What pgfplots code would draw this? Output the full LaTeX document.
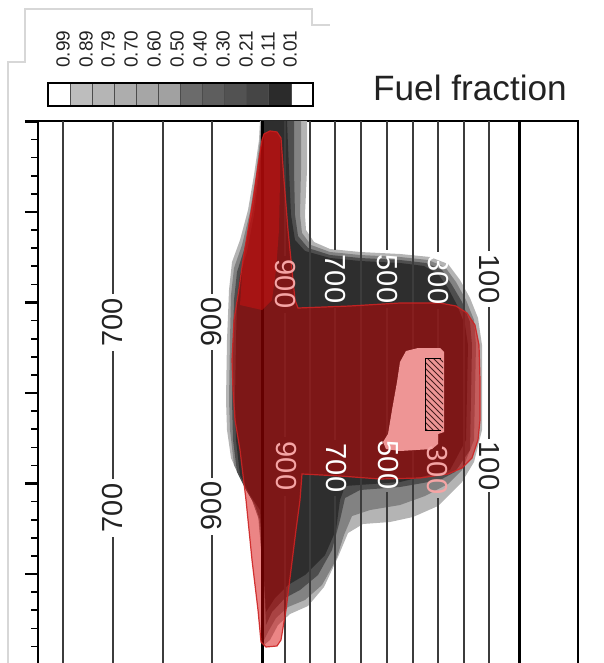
\documentclass[border=0pt]{standalone}
\usepackage{pgfplots}
\pgfplotsset{compat=1.18}
\usepackage{fontspec}
\setmainfont{Liberation Sans}
\usetikzlibrary{patterns}
\definecolor{gA}{RGB}{180,180,180}
\definecolor{gB}{RGB}{130,130,130}
\definecolor{gC}{RGB}{78,78,78}
\definecolor{gD}{RGB}{46,46,46}
\definecolor{isol}{RGB}{60,60,60}
\definecolor{redov}{RGB}{213,0,0}
\definecolor{redhi}{RGB}{200,18,18}
\definecolor{redline}{RGB}{205,35,35}
\definecolor{core}{RGB}{248,160,160}
\definecolor{pinktxt}{RGB}{245,165,165}
\definecolor{frame}{RGB}{215,215,215}
\definecolor{txt}{RGB}{34,34,34}
\begin{document}
\begin{tikzpicture}
\begin{axis}[
  scale only axis, width=270pt, height=274.5pt,
  xmin=38, xmax=578, ymin=121, ymax=670, y dir=reverse,
  axis line style={line width=1.25pt, black},
  xtick=\empty,
  ytick={121.5,212,302.5,393,483.5,574,664.5},
  minor y tick num=4,
  yticklabels={},
  ytick pos=left, tick align=outside,
  major tick length=6.5pt, minor tick length=3.5pt,
  every major tick/.append style={line width=1.3pt, black},
  every minor tick/.append style={line width=0.8pt, black},
  clip=false,
]
% ---- fuel fraction bands
\addplot[fill=gA, draw=none] coordinates {(260,121) (307,121) (307,170) (305,215) (306,230) (314,242) (330,249) (360,252) (400,254) (430,257) (448,264) (460,280) (470,298) (478,318) (482,345) (482,430) (474,462) (462,482) (438,506) (413,517) (390,522) (363,524) (348,533) (338,557) (324,587) (308,606) (290,614) (278,625) (270,640) (264,645) (262,560) (258,515) (250,495) (240,478) (231,458) (227,430) (226,400) (227,340) (229,290) (232,262) (240,240) (248,210) (254,175) (259,140)} --cycle;
\addplot[fill=gB, draw=none] coordinates {(261,121) (301,121) (301,170) (300,215) (302,233) (311,245) (330,252) (360,255) (400,257) (428,260) (445,267) (456,282) (466,300) (474,320) (476,345) (474,440) (462,470) (448,484) (425,496) (400,505) (370,510) (352,516) (344,535) (336,560) (322,585) (305,600) (288,607) (276,618) (268,632) (264,640) (262,560) (259,520) (252,500) (243,484) (234,465) (230,430) (229,400) (230,340) (231,295) (234,268) (242,245) (250,212) (256,175) (260,140)} --cycle;
\addplot[fill=gC, draw=none] coordinates {(262,121) (294,121) (294,170) (295,215) (298,236) (308,248) (330,255) (360,258) (400,260) (426,263) (442,270) (452,285) (462,302) (470,322) (472,345) (470,450) (455,472) (440,480) (400,487) (360,490) (345,498) (340,520) (332,550) (318,575) (300,590) (285,598) (272,612) (266,625) (263,560) (260,520) (255,505) (246,490) (237,472) (233,440) (232,400) (233,340) (234,300) (237,272) (244,250) (252,215) (258,175) (261,140)} --cycle;
\addplot[fill=gD, draw=none] coordinates {(262,121) (287,121) (289,170) (291,215) (295,240) (305,251) (330,258) (360,261) (400,263) (424,266) (438,274) (448,288) (457,305) (465,325) (468,345) (466,440) (450,470) (400,482) (345,486) (340,500) (336,530) (325,555) (305,575) (288,585) (275,598) (266,612) (263,560) (260,510) (250,495) (240,475) (236,440) (235,400) (236,340) (237,300) (240,275) (247,252) (254,215) (259,175) (262,140)} --cycle;
% ---- isolines
\pgfplotsset{iso/.style={isol, line width=0.75pt, unbounded coords=jump, forget plot}}
\addplot[iso] coordinates {(63,121) (63,670)};
\addplot[iso] coordinates {(113,121) (113,294) (113,nan) (113,351) (113,479) (113,nan) (113,537) (113,670)};
\addplot[iso] coordinates {(163,121) (163,670)};
\addplot[iso] coordinates {(212,121) (212,294) (212,nan) (212,350) (212,478) (212,nan) (212,535) (212,670)};
\addplot[black, line width=1.5pt] coordinates {(262,121) (262,670)};
\addplot[iso] coordinates {(285,121) (285,256) (285,nan) (285,313) (285,437) (285,nan) (285,496) (285,670)};
\addplot[iso] coordinates {(310,121) (310,670)};
\addplot[iso] coordinates {(335,121) (335,250) (335,nan) (335,308) (335,440) (335,nan) (335,496) (335,670)};
\addplot[iso] coordinates {(361,121) (361,670)};
\addplot[iso] coordinates {(387,121) (387,250) (387,nan) (387,308) (387,438) (387,nan) (387,492) (387,670)};
\addplot[iso] coordinates {(413,121) (413,670)};
\addplot[iso] coordinates {(438,121) (438,252) (438,nan) (438,309) (438,441) (438,nan) (438,498) (438,670)};
\addplot[iso] coordinates {(464,121) (464,670)};
\addplot[iso] coordinates {(489,121) (489,251) (489,nan) (489,307) (489,439) (489,nan) (489,492) (489,670)};
\addplot[black, line width=1.5pt] coordinates {(519,121) (519,670)};
% ---- red region
\addplot[fill=redov, fill opacity=0.48, draw=redline, draw opacity=0.9, line width=0.6pt] coordinates {(262,140) (264,134) (270,131) (277,132) (281,138) (284,180) (288,230) (292,270) (295,300) (298,308) (350,306) (400,303) (440,303) (456,306) (467,313) (475,325) (479,345) (480,380) (480,420) (478,440) (472,458) (462,468) (448,474) (420,478) (380,479) (340,476) (302,474) (300,500) (296,530) (291,570) (286,610) (281,640) (277,646) (266,647) (261,642) (258,610) (252,560) (246,500) (240,450) (235,420) (233,390) (232,360) (234,320) (238,295) (243,260) (248,230) (253,200) (258,165)} --cycle;
% brighter upper spike
\addplot[fill=redhi, fill opacity=0.55, draw=none] coordinates {(262,140) (264,134) (270,131) (277,132) (280,138) (280,180) (279,230) (276,270) (272,300) (262,310) (240,305) (243,260) (248,230) (253,200) (258,165)} --cycle;
% ---- core
\addplot[fill=core, fill opacity=0.92, draw=none] coordinates {(406,351) (418,348) (440,348) (444,352) (444,432) (438,434) (438,444) (432,449) (400,451) (386,449) (383,442) (388,434) (392,410) (397,382) (400,362)} --cycle;
\addplot[pattern=north west lines, pattern color={rgb,255:red,70;green,30;blue,30}, draw=none] coordinates {(425,358) (443,358) (443,430) (425,430)} --cycle;
\addplot[black, line width=0.5pt] coordinates {(441,358) (425,358) (425,430) (441,430)};
% ---- labels
\tikzset{lab/.style={font=\fontsize{14.5}{17}\selectfont, inner sep=0pt, anchor=center}}
\node[lab, rotate=90, text=txt] at (axis cs:113,322.5) {700};
\node[lab, rotate=90, text=txt] at (axis cs:113,508) {700};
\node[lab, rotate=90, text=txt] at (axis cs:212,322) {900};
\node[lab, rotate=90, text=txt] at (axis cs:212,506) {900};
\node[lab, rotate=-90, text=pinktxt] at (axis cs:285,284) {900};
\node[lab, rotate=-90, text=pinktxt] at (axis cs:286,466) {900};
\node[lab, rotate=-90, text=white] at (axis cs:335,279) {700};
\node[lab, rotate=-90, text=white] at (axis cs:336,468) {700};
\node[lab, rotate=-90, text=white] at (axis cs:387,279) {500};
\node[lab, rotate=-90, text=white] at (axis cs:388,465) {500};
\node[lab, rotate=-90, text=white] at (axis cs:438,280) {300};
\node[lab, rotate=-90, text=pinktxt] at (axis cs:437,470) {300};
\node[lab, rotate=-90, text=txt] at (axis cs:489,279) {100};
\node[lab, rotate=-90, text=txt] at (axis cs:489,466) {100};
% ---- colour bar
\fill[white] (axis cs:48,83) rectangle (axis cs:70.1,106);
\fill[black!26] (axis cs:70.1,83) rectangle (axis cs:92.2,106);
\fill[black!29] (axis cs:92.2,83) rectangle (axis cs:114.3,106);
\fill[black!32] (axis cs:114.3,83) rectangle (axis cs:136.4,106);
\fill[black!35] (axis cs:136.4,83) rectangle (axis cs:158.4,106);
\fill[black!37] (axis cs:158.4,83) rectangle (axis cs:180.5,106);
\fill[black!58] (axis cs:180.5,83) rectangle (axis cs:202.6,106);
\fill[black!63] (axis cs:202.6,83) rectangle (axis cs:224.7,106);
\fill[black!68] (axis cs:224.7,83) rectangle (axis cs:246.8,106);
\fill[black!73] (axis cs:246.8,83) rectangle (axis cs:268.8,106);
\fill[black!83] (axis cs:268.8,83) rectangle (axis cs:290.9,106);
\fill[white] (axis cs:290.9,83) rectangle (axis cs:313,106);
\draw[black!70, line width=0.4pt] (axis cs:70.1,83) -- (axis cs:70.1,106);
\draw[black!70, line width=0.4pt] (axis cs:92.2,83) -- (axis cs:92.2,106);
\draw[black!70, line width=0.4pt] (axis cs:114.3,83) -- (axis cs:114.3,106);
\draw[black!70, line width=0.4pt] (axis cs:136.4,83) -- (axis cs:136.4,106);
\draw[black!70, line width=0.4pt] (axis cs:158.4,83) -- (axis cs:158.4,106);
\draw[black!70, line width=0.4pt] (axis cs:180.5,83) -- (axis cs:180.5,106);
\draw[black!70, line width=0.4pt] (axis cs:202.6,83) -- (axis cs:202.6,106);
\draw[black!70, line width=0.4pt] (axis cs:224.7,83) -- (axis cs:224.7,106);
\draw[black!70, line width=0.4pt] (axis cs:246.8,83) -- (axis cs:246.8,106);
\draw[black!70, line width=0.4pt] (axis cs:268.8,83) -- (axis cs:268.8,106);
\draw[black!70, line width=0.4pt] (axis cs:290.9,83) -- (axis cs:290.9,106);
\draw[black, line width=0.6pt] (axis cs:48,83) rectangle (axis cs:313,106);
\tikzset{cbl/.style={rotate=90, anchor=west, inner sep=0pt, font=\fontsize{9.5}{11}\selectfont, text=txt}}
\node[cbl] at (axis cs:63,68) {0.99};
\node[cbl] at (axis cs:86,68) {0.89};
\node[cbl] at (axis cs:108,68) {0.79};
\node[cbl] at (axis cs:131,68) {0.70};
\node[cbl] at (axis cs:154,68) {0.60};
\node[cbl] at (axis cs:177,68) {0.50};
\node[cbl] at (axis cs:200,68) {0.40};
\node[cbl] at (axis cs:223,68) {0.30};
\node[cbl] at (axis cs:246,68) {0.21};
\node[cbl] at (axis cs:268,68) {0.11};
\node[cbl] at (axis cs:290,68) {0.01};
\node[font=\fontsize{17.6}{20}\selectfont, text=txt] at (axis cs:470,88) {Fuel fraction};
% ---- faint frame of the screenshot
\draw[frame, line width=0.6pt] (axis cs:8,663) -- (axis cs:8,62) -- (axis cs:25,62) -- (axis cs:25,9) -- (axis cs:312,9) -- (axis cs:312,25) -- (axis cs:330,25);
\coordinate (bbtl) at (axis cs:0,0);
\coordinate (bbbr) at (axis cs:604,663);
\end{axis}
\pgfresetboundingbox
\useasboundingbox (bbtl) rectangle (bbbr);
\end{tikzpicture}
\end{document}
